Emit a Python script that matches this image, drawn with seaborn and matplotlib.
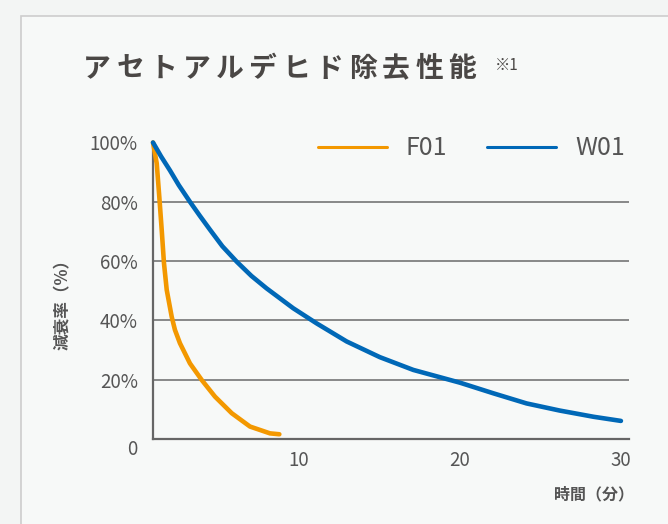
import seaborn as sns
import matplotlib.pyplot as plt
import matplotlib.patches as patches
from matplotlib.transforms import ScaledTranslation
import pandas as pd

# values (time in minutes, remaining %)
f01_time = [1.0, 1.23, 1.39, 1.54, 1.68, 1.85, 2.16, 2.36, 2.67, 3.29, 4.02,
            4.84, 5.88, 7.01, 8.25, 8.83]
f01_rate = [100, 93, 81.7, 70.5, 59.3, 50.3, 41.2, 36.8, 32.3, 25.5, 19.9,
            14.3, 8.7, 4.2, 1.9, 1.6]
w01_time = [1.0, 1.5, 2.05, 2.6, 3.29, 3.9, 4.53, 5.3, 6.19, 7.1, 8.04, 9.69,
            11.14, 13.0, 15.06, 17.13, 20.02, 22.1, 24.15, 26.2, 28.3, 30.0]
w01_rate = [100, 95.3, 90.6, 85.6, 80.0, 75.3, 70.6, 65.0, 59.8, 55.0, 50.8,
            44.1, 39.0, 32.9, 27.6, 23.3, 19.0, 15.4, 12.0, 9.6, 7.5, 6.1]
series = ["F01", "W01"]
x_ticks = [10, 20, 30]
y_ticks = [0, 20, 40, 60, 80, 100]
y_labels = ["0", "20%", "40%", "60%", "80%", "100%"]
title = "アセトアルデヒド除去性能"

sns.set_style('white')
plt.rcParams['font.family'] = ['Noto Sans CJK JP', 'DejaVu Sans']

df = pd.concat([
    pd.DataFrame({"t": f01_time, "v": f01_rate, "s": series[0]}),
    pd.DataFrame({"t": w01_time, "v": w01_rate, "s": series[1]}),
], ignore_index=True)

txt = '#555555'
W, H = 668, 524
fig = plt.figure(figsize=(6.68, 5.24), dpi=100, facecolor='#f3f5f4')
fig.patches.append(patches.Rectangle((21 / W, -0.1), 1.1, (H - 16) / H + 0.1,
                                     transform=fig.transFigure, facecolor='#f7f9f8',
                                     edgecolor='#cdcdcd', lw=1.2, zorder=-1))
ax = fig.add_axes([153 / W, 1 - 439 / H, (629 - 153) / W, (439 - 142.5) / H])
ax.set_facecolor('none')

sns.lineplot(data=df, x="t", y="v", hue="s", palette=["#f39800", "#0068b7"],
             sort=False, estimator=None, lw=3.3, ax=ax, legend=False,
             solid_capstyle='round', solid_joinstyle='round', clip_on=False, zorder=3)

ax.set_xlim(1, 30.5)
ax.set_ylim(0, 100)
ax.set_xticks(x_ticks)
ax.set_yticks(y_ticks)
ax.set_yticklabels(y_labels)
ax.tick_params(length=0, labelsize=13.5, colors=txt)
ax.tick_params(axis='x', pad=8)
ax.tick_params(axis='y', pad=11)
lab0 = ax.get_yticklabels()[0]
lab0.set_transform(lab0.get_transform() + ScaledTranslation(0, -6 / 72, fig.dpi_scale_trans))

ax.grid(axis='y', color='#6a6a6a', lw=1.1)
gl = ax.get_ygridlines()
gl[0].set_visible(False)
gl[-1].set_visible(False)
for side in ['top', 'right']:
    ax.spines[side].set_visible(False)
for side in ['left', 'bottom']:
    ax.spines[side].set_color('#666666')
    ax.spines[side].set_linewidth(1.6)

ax.set_xlabel('')
ax.set_ylabel('')
fig.text(62.5 / W, 1 - 300 / H, '減衰率（%）', rotation=90, ha='center', va='center',
         fontsize=12, color=txt, fontweight='bold')
fig.text(634 / W, 1 - 494 / H, '時間（分）', ha='right', va='center',
         fontsize=11.5, color=txt, fontweight='bold')

# title with letter spacing
for i, ch in enumerate(title):
    fig.text((97 + i * 33.2) / W, 1 - 69 / H, ch, ha='center', va='center',
             fontsize=20, fontweight='bold', color='#4a4745')
fig.text(495 / W, 1 - 57 / H, '※1', ha='left', va='top',
         fontsize=11, color='#4a4745')

handles = [plt.Line2D([], [], color=c, lw=2.2) for c in ["#f39800", "#0068b7"]]
fig.legend(handles, series, loc='center', bbox_to_anchor=(471.5 / W, 1 - 148.3 / H),
           ncol=2, frameon=False, fontsize=18, handlelength=2.76, handletextpad=0.76,
           columnspacing=1.6, labelcolor=txt)

fig.savefig('out.png', dpi=100, facecolor=fig.get_facecolor())
